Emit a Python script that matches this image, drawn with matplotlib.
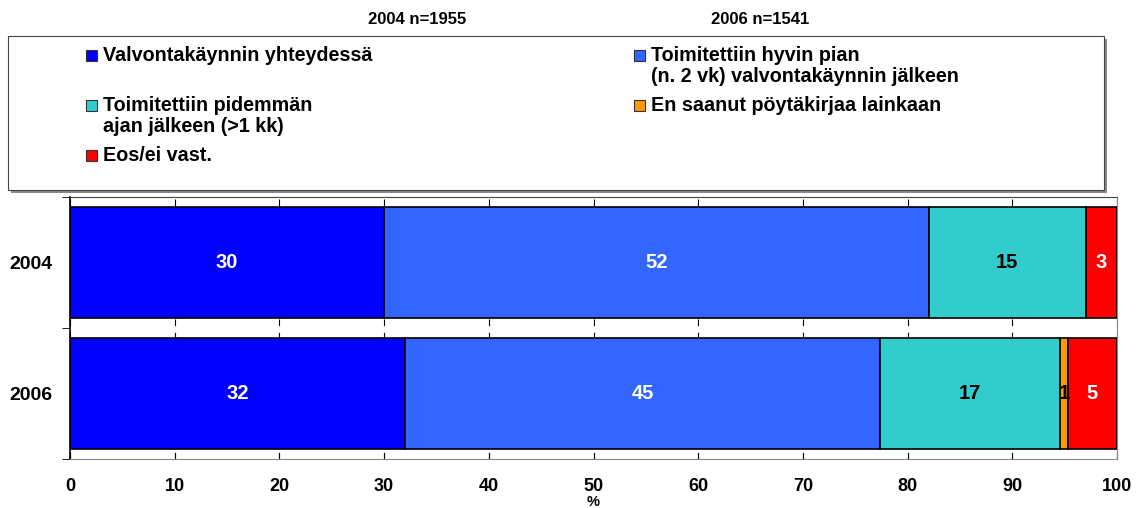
import matplotlib
matplotlib.use("Agg")
import matplotlib.pyplot as plt
from matplotlib.patches import Rectangle
import numpy as np

plt.rcParams['font.family'] = ['Liberation Sans', 'DejaVu Sans']
plt.rcParams['font.weight'] = 'bold'

years = ["2004", "2006"]
series_names = ["Valvontakäynnin yhteydessä",
                "Toimitettiin hyvin pian\n(n. 2 vk) valvontakäynnin jälkeen",
                "Toimitettiin pidemmän\najan jälkeen (>1 kk)",
                "En saanut pöytäkirjaa lainkaan",
                "Eos/ei vast."]
values = [
    [30.0, 32.0],
    [52.0, 45.4],
    [15.0, 17.2],
    [0.0, 0.7],
    [3.0, 4.7],
]
labels = [
    ["30", "32"],
    ["52", "45"],
    ["15", "17"],
    ["", "1"],
    ["3", "5"],
]
colors = ["#0000FF", "#3366FF", "#33CCCC", "#FF9900", "#FF0000"]
text_colors = ["white", "white", "black", "black", "white"]
titles = ["2004 n=1955", "2006 n=1541"]

fig = plt.figure(figsize=(11.42, 5.08), dpi=100)
W, H = 1142, 508
ax = fig.add_axes([70 / W, 1 - 459 / H, (1117 - 70) / W, (459 - 197) / H])

y = np.arange(len(years))
left = np.zeros(len(years))
for i, (vals, col) in enumerate(zip(values, colors)):
    vals = np.array(vals)
    ax.barh(y, vals, left=left, height=0.84, color=col, edgecolor='black', linewidth=1.2, zorder=3)
    for j in range(len(years)):
        if labels[i][j]:
            ax.text(left[j] + vals[j] / 2, y[j], labels[i][j], ha='center', va='center',
                    color=text_colors[i], fontsize=14.5, fontweight='bold', zorder=4)
    left += vals

ax.set_xlim(0, 100)
ax.set_ylim(1.5, -0.5)
ax.set_xticks(np.arange(0, 101, 10))
ax.set_xticklabels([str(v) for v in range(0, 101, 10)], fontsize=13, fontweight='bold')
ax.tick_params(axis='x', direction='in', length=4, pad=14, color='black')
ax.set_yticks(y)
ax.set_yticklabels(years, fontsize=14, fontweight='bold')
ax.tick_params(axis='y', length=0, pad=12.5)
ax.set_yticks([-0.5, 0.5, 1.5], minor=True)
ax.tick_params(axis='y', which='minor', length=6, direction='out', color='black')
ax.grid(axis='x', color='black', linestyle=(0, (6, 6)), linewidth=0.8, zorder=1)
ax.set_xlabel('%', fontsize=10.5, fontweight='bold', labelpad=-0.5)
ax.spines['left'].set_color('black')
ax.spines['left'].set_linewidth(1.2)
ax.spines['top'].set_color('#444444')
ax.spines['right'].set_color('#888888')
ax.spines['bottom'].set_color('#888888')

# Titles
fig.text(417 / W, 1 - 24 / H, titles[0], ha='center', va='baseline', fontsize=12, fontweight='bold')
fig.text(760 / W, 1 - 24 / H, titles[1], ha='center', va='baseline', fontsize=12, fontweight='bold')

# Legend box with shadow
fig.patches.append(Rectangle((11 / W, 1 - 193 / H), (1107 - 11) / W, (193 - 39) / H,
                             transform=fig.transFigure, facecolor='#888888', edgecolor='none', zorder=1))
fig.patches.append(Rectangle((8 / W, 1 - 190 / H), (1104 - 8) / W, (190 - 36) / H,
                             transform=fig.transFigure, facecolor='white', edgecolor='#444444',
                             linewidth=0.8, zorder=2))

# (marker x, first-line baseline y) in pixels
legend_pos = [(86, 61), (634, 61), (86, 111), (634, 111), (86, 161)]
line_step = 21
for (px, py), name, col in zip(legend_pos, series_names, colors):
    fig.patches.append(Rectangle((px / W, 1 - py / H), 11 / W, 11 / H,
                                 transform=fig.transFigure, facecolor=col, edgecolor='#333333',
                                 linewidth=0.8, zorder=3))
    for k, line in enumerate(name.split("\n")):
        fig.text((px + 17) / W, 1 - (py + k * line_step) / H, line, ha='left', va='baseline',
                 fontsize=14.2, fontweight='bold', zorder=4)

fig.savefig("out.png", dpi=100)
